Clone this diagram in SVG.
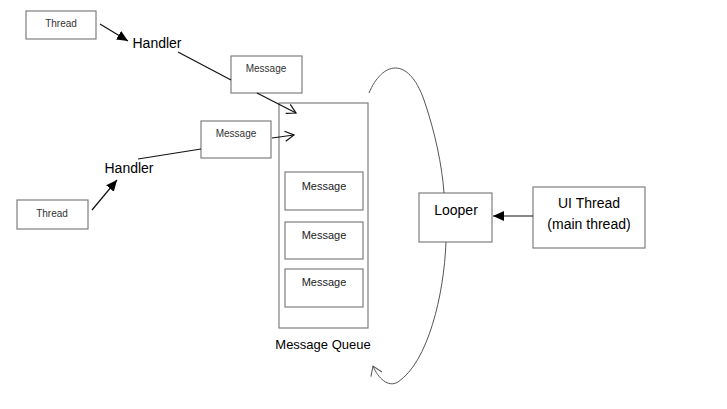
<svg xmlns="http://www.w3.org/2000/svg" width="727" height="409" viewBox="0 0 727 409">
<style>
.box{fill:#fff;stroke:#7f7f7f;stroke-width:1.2}
.ln{fill:none;stroke:#111;stroke-width:1.2}
.arc{fill:none;stroke:#555;stroke-width:1}
text{font-family:"Liberation Sans",Arial,sans-serif;text-anchor:middle;fill:#000}
.sm{font-size:10px;fill:#333}
.md{font-size:11px;fill:#222}
.lg{font-size:14px}
</style>
<defs>
<marker id="fill" markerUnits="userSpaceOnUse" markerWidth="12" markerHeight="12" viewBox="0 0 12 12" refX="11" refY="6" orient="auto">
<path d="M0,1 L11,6 L0,11 Z" fill="#000"/>
</marker>
<marker id="open" markerUnits="userSpaceOnUse" markerWidth="12" markerHeight="12" viewBox="0 0 12 12" refX="11" refY="6" orient="auto">
<path d="M2,1 L11,6 L2,11" fill="none" stroke="#111" stroke-width="1.2"/>
</marker>
<marker id="openg" markerUnits="userSpaceOnUse" markerWidth="14" markerHeight="14" viewBox="0 0 14 14" refX="12" refY="7" orient="auto">
<path d="M3,1 L12,7 L3,13" fill="none" stroke="#555" stroke-width="1"/>
</marker>
</defs>

<g id="thread1"><rect class="box" x="26" y="11" width="70" height="28"/><text class="sm" x="61" y="27">Thread</text></g>
<g id="handler1"><text class="lg" x="157" y="48">Handler</text></g>
<g id="message1"><rect class="box" x="231" y="56" width="71" height="37"/><text class="sm" x="266" y="72">Message</text></g>
<g id="message2"><rect class="box" x="201" y="121" width="70" height="37"/><text class="sm" x="236" y="137">Message</text></g>
<g id="handler2"><text class="lg" x="129" y="173">Handler</text></g>
<g id="thread2"><rect class="box" x="17" y="200" width="71" height="29"/><text class="sm" x="52" y="217">Thread</text></g>

<g id="queue">
<rect class="box" x="279" y="103" width="89" height="225"/>
<text x="323" y="349" font-size="13">Message Queue</text>
</g>
<g id="qmsg1"><rect class="box" x="285" y="172" width="78" height="38"/><text class="md" x="324" y="190">Message</text></g>
<g id="qmsg2"><rect class="box" x="285" y="222" width="78" height="37"/><text class="md" x="324" y="239">Message</text></g>
<g id="qmsg3"><rect class="box" x="285" y="269" width="78" height="38"/><text class="md" x="324" y="286">Message</text></g>

<g id="looper"><rect class="box" x="419" y="193" width="73" height="49"/><text class="lg" x="456" y="215">Looper</text></g>
<g id="uithread"><rect class="box" x="533" y="187" width="112" height="61"/><text class="lg" x="589" y="208">UI Thread</text><text class="lg" x="589" y="229">(main thread)</text></g>

<g id="connectors">
<line class="ln" x1="100" y1="24" x2="128" y2="41" marker-end="url(#fill)"/>
<line class="ln" x1="178" y1="52" x2="231" y2="80"/>
<line class="ln" x1="257" y1="93" x2="296" y2="113" marker-end="url(#open)"/>
<line class="ln" x1="92" y1="210" x2="117" y2="180" marker-end="url(#fill)"/>
<line class="ln" x1="138" y1="159" x2="201" y2="149"/>
<line class="ln" x1="272" y1="138" x2="294" y2="135" marker-end="url(#open)"/>
<line class="ln" x1="533" y1="216" x2="493" y2="216" marker-end="url(#fill)"/>
<path class="arc" d="M369,93 C382,62 408,55 424,100 C435,132 442,165 444,193"/>
<path class="arc" d="M446,242 C444,295 428,362 398,382 C388,388 378,378 373,366" marker-end="url(#openg)"/>
</g>
</svg>
